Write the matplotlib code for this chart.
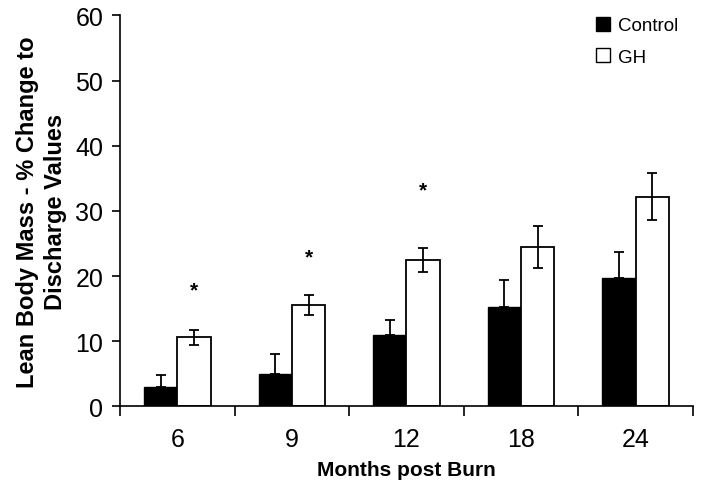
import matplotlib
matplotlib.use("Agg")
import matplotlib.pyplot as plt
import numpy as np
from matplotlib.patches import Patch

plt.rcParams['font.family'] = ['Liberation Sans', 'DejaVu Sans']

categories = ["6", "9", "12", "18", "24"]
control = [3.0, 5.0, 11.0, 15.2, 19.7]
control_err = [1.8, 3.1, 2.3, 4.25, 3.95]
gh = [10.6, 15.6, 22.5, 24.5, 32.2]
gh_err = [1.2, 1.5, 1.8, 3.2, 3.65]
star_idx = [0, 1, 2]
star_y = [17.9, 22.9, 33.2]

fig = plt.figure(figsize=(7.02, 4.85), dpi=100)
ax = fig.add_axes([0.171, 0.16, 0.816, 0.806])

x = np.arange(len(categories))
w = 0.29
ax.bar(x - w/2, control, w, color='black', edgecolor='black', linewidth=1.0,
       yerr=[np.zeros(len(control)), control_err], capsize=3.5,
       error_kw=dict(ecolor='black', elinewidth=1.3, capthick=1.3), label='Control')
ax.bar(x + w/2, gh, w, color='white', edgecolor='black', linewidth=1.3,
       yerr=gh_err, capsize=3.5,
       error_kw=dict(ecolor='black', elinewidth=1.3, capthick=1.3), label='GH')

for i, yv in zip(star_idx, star_y):
    ax.text(x[i] + w/2, yv, '*', ha='center', va='center', fontsize=15, fontweight='bold')

ax.set_xlim(-0.5, len(categories) - 0.5)
ax.set_ylim(0, 60)
ax.set_yticks(range(0, 61, 10))
ax.set_xticks(np.arange(-0.5, len(categories), 1.0))
ax.set_xticklabels([])
ax.set_xticks(x, minor=True)
ax.set_xticklabels(categories, minor=True)
ax.tick_params(axis='x', which='minor', length=0, pad=15, labelsize=18)
ax.tick_params(axis='x', which='major', length=7, width=1.2, direction='out')
ax.tick_params(axis='y', length=6, width=1.2, direction='out', labelsize=18, pad=6)

for s in ['top', 'right']:
    ax.spines[s].set_visible(False)
for s in ['left', 'bottom']:
    ax.spines[s].set_linewidth(1.2)

ax.set_xlabel('Months post Burn', fontsize=15, fontweight='bold', labelpad=6)
ax.set_ylabel('Lean Body Mass - % Change to\nDischarge Values', fontsize=17,
              fontweight='bold', labelpad=6, linespacing=1.3)

handles = [Patch(facecolor='black', edgecolor='black'),
           Patch(facecolor='white', edgecolor='black')]
fig.legend(handles, ['Control', 'GH'], loc='upper left',
           bbox_to_anchor=(596/702, 1 - 18/485), borderpad=0, borderaxespad=0,
           frameon=False, fontsize=13.5, handlelength=0.75, handleheight=0.75,
           handletextpad=0.4, labelspacing=0.75)

fig.savefig('out.png', dpi=100)
